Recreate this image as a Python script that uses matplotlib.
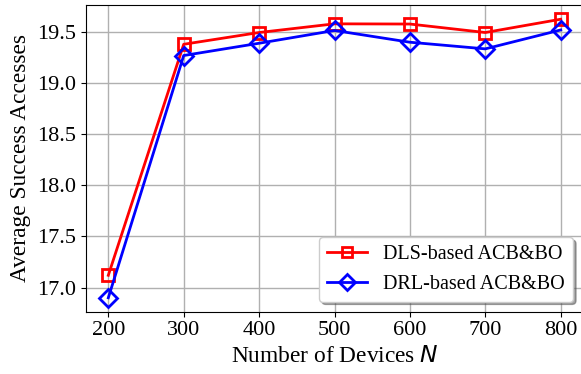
import matplotlib
matplotlib.use('Agg')
import matplotlib.pyplot as plt

# dados do grafico
devices = [200, 300, 400, 500, 600, 700, 800]
dls_based = [17.12, 19.38, 19.495, 19.58, 19.578, 19.495, 19.625]
drl_based = [16.90, 19.27, 19.39, 19.515, 19.40, 19.335, 19.52]

plt.rcParams['font.family'] = 'Liberation Serif'
plt.rcParams['mathtext.fontset'] = 'dejavusans'

fig = plt.figure(figsize=(5.81, 3.74), dpi=100)
ax = fig.add_axes([85.7 / 581, 62.3 / 374, 497.6 / 581, 306.4 / 374])

ax.plot(devices, dls_based, color='red', marker='s', markersize=9, markerfacecolor='none',
        markeredgewidth=2, linewidth=2, label='DLS-based ACB&BO')
ax.plot(devices, drl_based, color='blue', marker='D', markersize=9, markerfacecolor='none',
        markeredgewidth=2, linewidth=2, label='DRL-based ACB&BO')

ax.set_xlabel('Number of Devices $N$', fontsize=16.8)
ax.set_ylabel('Average Success Accesses', fontsize=16.8)
ax.set_xticks(devices)
ax.tick_params(labelsize=16)
ax.grid(True, color='#b0b0b0', linewidth=1)
ax.legend(loc='lower right', fontsize=14.5, shadow=True, fancybox=True, framealpha=1,
          markerscale=0.85)

fig.savefig('out.png', dpi=100)
